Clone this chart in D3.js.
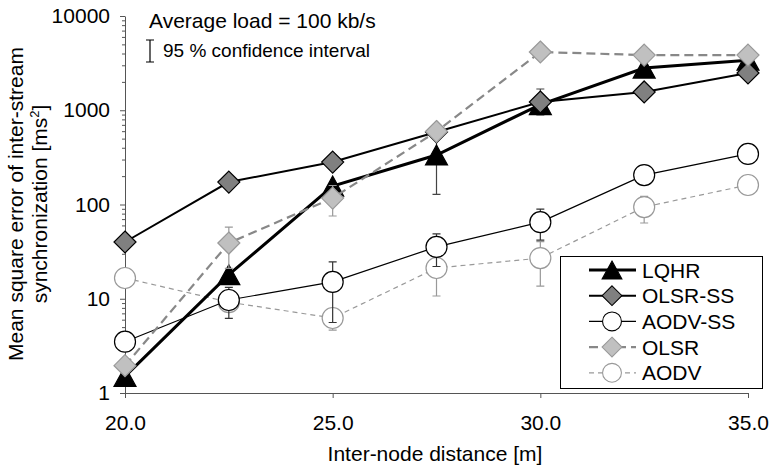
<!DOCTYPE html>
<html>
<head>
<meta charset="utf-8">
<script src="https://cdn.jsdelivr.net/npm/d3@7"></script>
<style>
  body { margin: 0; background: #fff; }
  svg { font-family: "Liberation Sans", Arial, sans-serif; }
  .axis path, .axis line { stroke: #555; }
  .axis text { font-size: 21px; fill: #000; }
</style>
</head>
<body>
<div id="chart"></div>
<script>
// distances along x (m)
const distances = [20, 22.5, 25, 27.5, 30, 32.5, 35];

// mean square error [ms^2] per protocol
const lqhr = [1.5, 18, 157, 335, 1150, 2800, 3400];
const olsrSS = [40, 173, 282, 588, 1224, 1563, 2485];
const aodvSS = [3.5, 9.7, 15.1, 35.5, 65, 205, 344];
const olsr = [1.95, 39, 117, 595, 4150, 3850, 3850];
const aodv = [16.6, 9.2, 6.25, 21.2, 27, 94, 161];

// 95 % confidence intervals [low, high], null where not visible
const lqhrCI = [null, null, null, [128, 542], [890, 1680], null, null];
const olsrSSCI = [null, null, null, null, null, null, null];
const aodvSSCI = [null, [6.2, 13.2], [5.6, 24.6], [22, 48.8], [41.9, 89.5], null, null];
const olsrCI = [null, [21, 57.6], [75.5, 159], null, null, null, null];
const aodvCI = [null, null, [4.65, 7.85], [10.7, 31.7], [13.6, 40.4], [63.6, 122], null];

const xTicks = [20, 25, 30, 35];
const yTicks = [1, 10, 100, 1000, 10000];

const width = 770;
const height = 467;

const shapes = {
  triangle: 'M0,-10L11,10L-11,10Z',
  diamond: 'M0,-11L11,0L0,11L-11,0Z',
  circle: d3.symbol().type(d3.symbolCircle).size(Math.PI * 10.5 * 10.5)()
};

// drawing order: later series sit on top
const series = [
  { name: 'AODV', values: aodv, ci: aodvCI, line: '#999', width: 1.2, dash: '5,4', shape: 'circle', fill: '#fff', stroke: '#999', err: '#999' },
  { name: 'AODV-SS', values: aodvSS, ci: aodvSSCI, line: '#000', width: 1.2, dash: null, shape: 'circle', fill: '#fff', stroke: '#000', err: '#333' },
  { name: 'LQHR', values: lqhr, ci: lqhrCI, line: '#000', width: 3, dash: null, shape: 'triangle', fill: '#000', stroke: '#000', err: '#444' },
  { name: 'OLSR-SS', values: olsrSS, ci: olsrSSCI, line: '#000', width: 2, dash: null, shape: 'diamond', fill: '#808080', stroke: '#000', err: '#333' },
  { name: 'OLSR', values: olsr, ci: olsrCI, line: '#888', width: 2.2, dash: '9,5', shape: 'diamond', fill: '#c0c0c0', stroke: '#999', err: '#999' }
];
const legendOrder = ['LQHR', 'OLSR-SS', 'AODV-SS', 'OLSR', 'AODV'];

const svg = d3.select('#chart')
  .append('svg')
  .attr('width', width)
  .attr('height', height);

const xScale = d3.scaleLinear()
  .domain([20, 35])
  .range([125, 748]);
const yScale = d3.scaleLog()
  .domain([1, 10000])
  .range([393, 16]);

// minor log ticks
const minor = [];
[1, 10, 100, 1000].forEach(d => {
  for (let k = 2; k <= 9; k++) minor.push(d * k);
});

svg.append('g')
  .attr('class', 'axis')
  .attr('transform', 'translate(125,0)')
  .call(d3.axisLeft(yScale).tickValues(minor).tickSize(3).tickFormat(''))
  .call(g => g.select('.domain').remove());

svg.append('g')
  .attr('class', 'axis')
  .attr('transform', 'translate(125,0)')
  .call(d3.axisLeft(yScale).tickValues(yTicks).tickSize(5).tickSizeOuter(0).tickPadding(10).tickFormat(d3.format('d')));

svg.append('g')
  .attr('class', 'axis')
  .attr('transform', 'translate(0,393)')
  .call(d3.axisBottom(xScale).tickValues(xTicks).tickSize(5).tickSizeOuter(0).tickPadding(17).tickFormat(d3.format('.1f')));

// axis titles
svg.append('text')
  .attr('x', 435)
  .attr('y', 461)
  .style('text-anchor', 'middle')
  .style('font-size', '21px')
  .text('Inter-node distance [m]');

svg.append('text')
  .attr('transform', 'translate(23,204) rotate(-90)')
  .style('text-anchor', 'middle')
  .style('font-size', '21px')
  .text('Mean square error of inter-stream');

const t2 = svg.append('text')
  .attr('transform', 'translate(47,204) rotate(-90)')
  .style('text-anchor', 'middle')
  .style('font-size', '21px');
t2.append('tspan').text('synchronization [ms');
t2.append('tspan').attr('dy', -8).style('font-size', '13px').text('2');
t2.append('tspan').attr('dy', 8).text(']');

// annotation
svg.append('text')
  .attr('x', 149)
  .attr('y', 28)
  .style('font-size', '21px')
  .text('Average load = 100 kb/s');
svg.append('text')
  .attr('x', 163)
  .attr('y', 57)
  .style('font-size', '19px')
  .text('95 % confidence interval');
svg.append('path')
  .attr('d', 'M146,40H154M150,40V62M146,62H154')
  .attr('fill', 'none')
  .attr('stroke', '#000')
  .attr('stroke-width', 1.2);

const line = d3.line()
  .x((d, i) => xScale(distances[i]))
  .y(d => yScale(d));

series.forEach(s => {
  const g = svg.append('g').attr('class', 'series');

  g.append('path')
    .datum(s.values)
    .attr('d', line)
    .attr('fill', 'none')
    .attr('stroke', s.line)
    .attr('stroke-width', s.width)
    .attr('stroke-dasharray', s.dash);

  const ci = s.ci.map((c, i) => ({ c, x: distances[i] })).filter(d => d.c);
  g.selectAll('path.err')
    .data(ci)
    .enter()
    .append('path')
    .attr('class', 'err')
    .attr('d', d => {
      const x = xScale(d.x), lo = yScale(d.c[0]), hi = yScale(d.c[1]);
      return `M${x - 4},${lo}H${x + 4}M${x},${lo}V${hi}M${x - 4},${hi}H${x + 4}`;
    })
    .attr('fill', 'none')
    .attr('stroke', s.err)
    .attr('stroke-width', 1.2);

  g.selectAll('path.mark')
    .data(s.values)
    .enter()
    .append('path')
    .attr('class', 'mark')
    .attr('d', shapes[s.shape])
    .attr('transform', (d, i) => `translate(${xScale(distances[i])},${yScale(d)})`)
    .attr('fill', s.fill)
    .attr('stroke', s.stroke)
    .attr('stroke-width', 1.2);
});

// legend
const legend = svg.append('g').attr('transform', 'translate(560,256)');
legend.append('rect')
  .attr('x', 0.5)
  .attr('y', 0.5)
  .attr('width', 202)
  .attr('height', 132)
  .attr('fill', '#fff')
  .attr('stroke', '#000')
  .attr('stroke-width', 1);

legendOrder.forEach((name, i) => {
  const s = series.find(d => d.name === name);
  const cy = 14 + i * 25.7;
  legend.append('line')
    .attr('x1', 29)
    .attr('x2', 76)
    .attr('y1', cy)
    .attr('y2', cy)
    .attr('stroke', s.line)
    .attr('stroke-width', s.width)
    .attr('stroke-dasharray', s.dash);
  legend.append('path')
    .attr('d', shapes[s.shape])
    .attr('transform', `translate(52,${cy}) scale(0.9)`)
    .attr('fill', s.fill)
    .attr('stroke', s.stroke)
    .attr('stroke-width', 1.2);
  legend.append('text')
    .attr('x', 82)
    .attr('y', cy + 7.5)
    .style('font-size', '21px')
    .text(name);
});
</script>
</body>
</html>
